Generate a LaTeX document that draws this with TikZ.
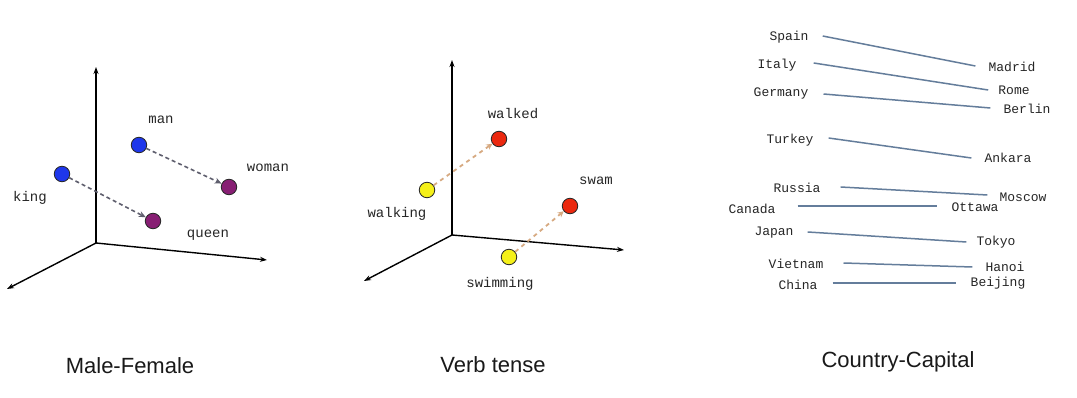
\documentclass[tikz,border=0pt]{standalone}
\usepackage{fontspec}
\setmainfont{Liberation Sans}
\newfontfamily\monof{Liberation Mono}
\usetikzlibrary{arrows.meta}
\definecolor{dotblue}{RGB}{30,55,235}
\definecolor{dotpurple}{RGB}{135,30,115}
\definecolor{dotred}{RGB}{235,40,15}
\definecolor{dotyellow}{RGB}{245,240,25}
\definecolor{vecgray}{RGB}{95,95,110}
\definecolor{vectan}{RGB}{215,170,130}
\definecolor{capcol}{RGB}{100,125,155}
\begin{document}
\begin{tikzpicture}[x=1pt,y=-1pt,
  axis/.style={line width=1.4pt,-{Stealth[length=7pt,width=5pt]}},
  dot/.style={circle,draw=black!85,line width=0.8pt,minimum size=15.5pt,inner sep=0pt},
  lbl/.style={font=\monof\fontsize{14}{14}\selectfont,text=black!85,inner sep=0pt},
  clbl/.style={font=\monof\fontsize{13}{13}\selectfont,text=black!85,inner sep=0pt},
  ttl/.style={font=\fontsize{22}{22}\selectfont,anchor=base,inner sep=0pt,text=black!90},
  vecg/.style={draw=vecgray,line width=1.6pt,dash pattern=on 4pt off 3pt,-{Stealth[length=7pt,width=6pt]}},
  vect/.style={draw=vectan,line width=1.8pt,dash pattern=on 4pt off 4pt,-{Stealth[length=6pt,width=6pt]}},
  capline/.style={draw=capcol,line width=1.5pt}
]
\path[use as bounding box,fill=white] (0,0) rectangle (1077,398);

% ---------- Panel 1: Male-Female ----------
\coordinate (o1) at (96,243);
\coordinate (z1) at (96,67);
\coordinate (x1) at (267,260);
\coordinate (y1) at (7,289);
\draw[axis] (o1) -- (z1);
\draw[axis] (o1) -- (x1);
\draw[axis] (o1) -- (y1);
\node[dot,fill=dotblue] (king) at (62,174) {};
\node[dot,fill=dotblue] (man) at (139,145) {};
\node[dot,fill=dotpurple] (woman) at (229,187) {};
\node[dot,fill=dotpurple] (queen) at (153,221) {};
\node[lbl] (lking) at (30,198) {king};
\node[lbl] (lman) at (161,120) {man};
\node[lbl] (lwoman) at (268,168) {woman};
\node[lbl] (lqueen) at (208,235) {queen};
\draw[vecg] (king) -- (queen);
\draw[vecg] (man) -- (woman);
\node[ttl] (t1) at (130,373) {Male-Female};

% ---------- Panel 2: Verb tense ----------
\coordinate (o2) at (452,235);
\coordinate (z2) at (452,60);
\coordinate (x2) at (624,250);
\coordinate (y2) at (364,281);
\draw[axis] (o2) -- (z2);
\draw[axis] (o2) -- (x2);
\draw[axis] (o2) -- (y2);
\node[dot,fill=dotred] (walked) at (499,139) {};
\node[dot,fill=dotyellow] (walking) at (427,190) {};
\node[dot,fill=dotred] (swam) at (570,206) {};
\node[dot,fill=dotyellow] (swimming) at (509,257) {};
\node[lbl] (lwalked) at (513,114) {walked};
\node[lbl] (lwalking) at (397,214) {walking};
\node[lbl] (lswam) at (596,181) {swam};
\node[lbl] (lswimming) at (500,284) {swimming};
\draw[vect] (walking) -- (walked);
\draw[vect] (swimming) -- (swam);
\node[ttl] (t2) at (493,372) {Verb tense};

% ---------- Panel 3: Country-Capital ----------
\node[clbl] (spain) at (789,37) {Spain};
\node[clbl] (madrid) at (1012,67) {Madrid};
\node[clbl] (italy) at (777,65) {Italy};
\node[clbl] (rome) at (1014,90) {Rome};
\node[clbl] (germany) at (781,94) {Germany};
\node[clbl] (berlin) at (1027,109) {Berlin};
\node[clbl] (turkey) at (790,140) {Turkey};
\node[clbl] (ankara) at (1008,158) {Ankara};
\node[clbl] (russia) at (797,188) {Russia};
\node[clbl] (moscow) at (1023,197) {Moscow};
\node[clbl] (canada) at (752,209) {Canada};
\node[clbl] (ottawa) at (975,207) {Ottawa};
\node[clbl] (japan) at (774,233) {Japan};
\node[clbl] (tokyo) at (996,242) {Tokyo};
\node[clbl] (vietnam) at (796,264) {Vietnam};
\node[clbl] (hanoi) at (1005,267) {Hanoi};
\node[clbl] (china) at (798,285) {China};
\node[clbl] (beijing) at (998,283) {Beijing};
\draw[capline] ([xshift=14pt,yshift=1pt]spain.east) -- ([xshift=-13pt,yshift=1pt]madrid.west);
\draw[capline] ([xshift=17pt,yshift=2pt]italy.east) -- ([xshift=-10pt]rome.west);
\draw[capline] ([xshift=15pt]germany.east) -- ([xshift=-13pt,yshift=1pt]berlin.west);
\draw[capline] ([xshift=15pt,yshift=2pt]turkey.east) -- ([xshift=-13pt]ankara.west);
\draw[capline] ([xshift=20pt,yshift=1pt]russia.east) -- ([xshift=-12pt,yshift=2pt]moscow.west);
\draw[capline] ([xshift=22pt,yshift=3pt]canada.east) -- ([xshift=-14pt,yshift=1pt]ottawa.west);
\draw[capline] ([xshift=14pt,yshift=1pt]japan.east) -- ([xshift=-10pt]tokyo.west);
\draw[capline] ([xshift=20pt,yshift=1pt]vietnam.east) -- ([xshift=-13pt]hanoi.west);
\draw[capline] ([xshift=15pt,yshift=2pt]china.east) -- ([xshift=-15pt]beijing.west);
\node[ttl] (t3) at (898,367) {Country-Capital};
\end{tikzpicture}
\end{document}
